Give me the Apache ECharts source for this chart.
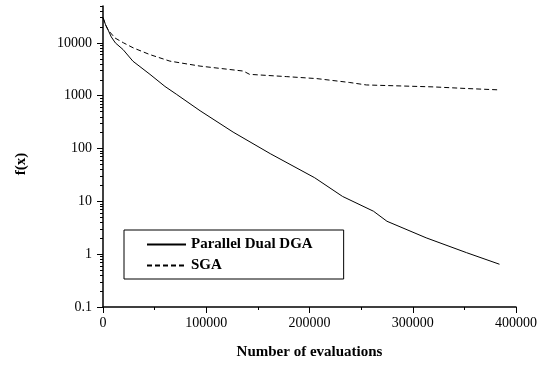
<!DOCTYPE html>
<html>
<head>
<meta charset="utf-8">
<script src="https://cdn.jsdelivr.net/npm/echarts@6/dist/echarts.min.js"></script>
<style>html,body{margin:0;padding:0;background:#fff}#c{width:540px;height:365px}</style>
</head>
<body>
<div id="c"></div>
<script>
// Data
const dgaEvals = [0, 2500, 5000, 8000, 12000, 19400, 29000, 45500, 60000, 71000, 94000, 126000, 162000, 205000, 232000, 262000, 275000, 313000, 352000, 384000];
const dgaValues = [30000, 22000, 17500, 13000, 10000, 7500, 4500, 2540, 1500, 1070, 520, 205, 80, 28, 12.4, 6.5, 4.2, 2.04, 1.07, 0.645];
const sgaEvals = [0, 2500, 5000, 11600, 20000, 29300, 45200, 64800, 94000, 136000, 142000, 178000, 207000, 239000, 255000, 320000, 352000, 384000];
const sgaValues = [30000, 22000, 17500, 12400, 10000, 8060, 6030, 4520, 3640, 2930, 2540, 2300, 2110, 1780, 1600, 1470, 1370, 1290];
const seriesNames = ['Parallel Dual DGA', 'SGA'];
const yMajorTicks = [0.1, 1, 10, 100, 1000, 10000];
const yMinorMultipliers = [2, 3, 4, 5, 6, 7, 8, 9];
const yMin = 0.1, yMax = 50000;
const xMin = 0, xMax = 400000, xStep = 100000;

const yMinorTicks = [];
yMajorTicks.forEach(d => yMinorMultipliers.forEach(m => { const v = +(d * m).toPrecision(6); if (v <= yMax) yMinorTicks.push(v); }));

const font = 'Liberation Serif';
const chart = echarts.init(document.getElementById('c'));
chart.setOption({
  animation: false,
  backgroundColor: '#fff',
  grid: { left: 103, right: 24, top: 6, bottom: 55, containLabel: false },
  legend: {
    left: 124, top: 230, orient: 'vertical',
    data: seriesNames,
    itemWidth: 39, itemHeight: 14, itemGap: 6,
    padding: [7, 31, 6, 22],
    borderColor: '#000', borderWidth: 1,
    itemStyle: { opacity: 0 },
    textStyle: { fontFamily: font, fontSize: 15, fontWeight: 'bold', color: '#000' }
  },
  xAxis: {
    type: 'value', min: xMin, max: xMax, interval: xStep,
    name: 'Number of evaluations', nameLocation: 'middle', nameGap: 38,
    nameTextStyle: { fontFamily: font, fontSize: 15, fontWeight: 'bold', color: '#000' },
    axisLine: { show: true, onZero: false, lineStyle: { color: '#000', width: 1.5 } },
    axisTick: { show: true, length: 6, lineStyle: { color: '#000', width: 1 } },
    minorTick: { show: true, splitNumber: 2, length: 3, lineStyle: { color: '#000', width: 1 } },
    splitLine: { show: false },
    axisLabel: { fontFamily: font, fontSize: 14, color: '#000', margin: 9, formatter: v => String(v) }
  },
  yAxis: [{
    type: 'log', min: yMin, max: yMax, position: 'left',
    name: 'f(x)', nameLocation: 'middle', nameGap: 74,
    nameTextStyle: { fontFamily: font, fontSize: 15, fontWeight: 'bold', color: '#000', padding: [0, 15, 0, 0] },
    axisLine: { show: true, onZero: false, lineStyle: { color: '#000', width: 1.5 } },
    axisTick: { show: true, length: 6, customValues: yMajorTicks, lineStyle: { color: '#000', width: 1 } },
    splitLine: { show: false },
    axisLabel: { fontFamily: font, fontSize: 14, color: '#000', margin: 11, customValues: yMajorTicks,
      formatter: v => String(+(+v).toPrecision(6)) }
  }, {
    type: 'log', min: yMin, max: yMax, position: 'left',
    axisLine: { show: false },
    axisTick: { show: true, length: 3, customValues: yMinorTicks, lineStyle: { color: '#000', width: 1 } },
    axisLabel: { show: false },
    splitLine: { show: false }
  }],
  series: [{
    name: seriesNames[0], type: 'line', yAxisIndex: 0, symbol: 'none',
    data: dgaEvals.map((x, i) => [x, dgaValues[i]]),
    lineStyle: { color: '#000', width: 1 }, itemStyle: { color: '#000' }
  }, {
    name: seriesNames[1], type: 'line', yAxisIndex: 0, symbol: 'none',
    data: sgaEvals.map((x, i) => [x, sgaValues[i]]),
    lineStyle: { color: '#000', width: 1, type: [5, 3] }, itemStyle: { color: '#000' }
  }]
});
</script>
</body>
</html>
